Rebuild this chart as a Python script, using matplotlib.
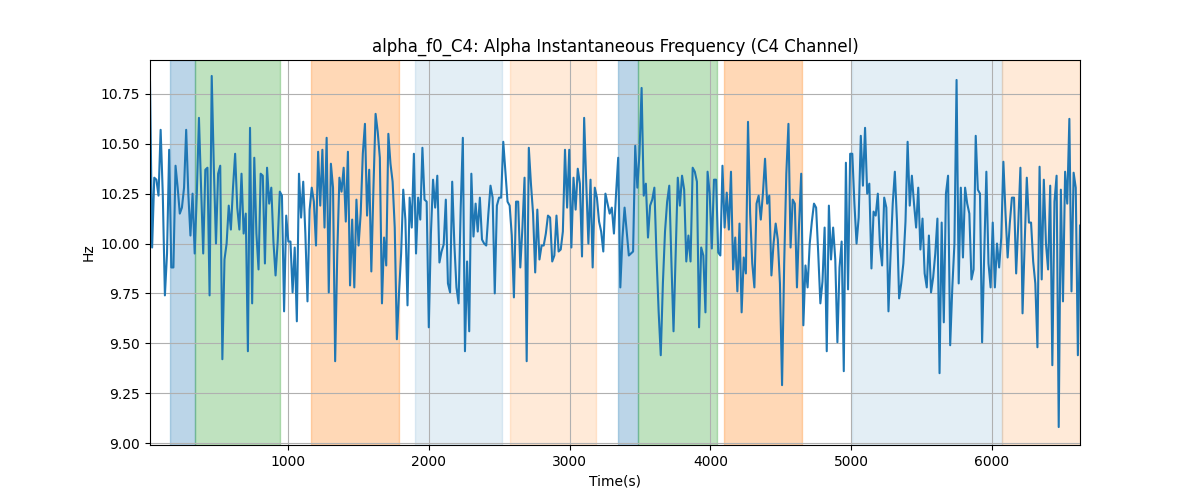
import numpy as np
import matplotlib
matplotlib.use("Agg")
import matplotlib.pyplot as plt

# ---- data ----
t_start, t_end = 20, 6625

seg_a = [10.81, 9.98, 10.33, 10.32, 10.24, 10.57, 10.25, 9.74, 9.95, 10.47, 9.88, 9.88, 10.39, 10.28,
         10.15, 10.18, 10.28, 10.57, 10.25, 10.04, 10.25, 9.95, 10.25, 10.63, 10.28, 9.95, 10.37, 10.38,
         9.74, 10.84, 10.38, 10.00, 10.35, 10.39, 9.42, 9.92, 10.00, 10.19, 10.07, 10.28, 10.45, 10.18,
         10.07, 10.35, 10.05, 10.15, 9.46, 10.58, 9.70, 10.43, 10.05, 9.87, 10.35, 10.34, 9.90]
seg_b = [10.38, 10.20, 10.28, 10.01, 9.84, 10.01, 10.26, 10.24, 9.66, 10.14, 10.01, 10.01, 9.755, 9.98,
         9.61, 10.35, 10.13, 10.31, 10.05, 9.71, 10.17, 10.28, 10.21, 9.99, 10.46, 10.19, 10.47, 10.08,
         10.53, 9.755, 10.40, 10.28, 9.41, 9.95, 10.33, 10.26, 10.38, 10.11, 10.46, 9.79, 10.12, 9.78,
         10.22, 9.99, 10.15, 10.45, 10.60, 10.14, 10.37, 9.86, 10.28, 10.65, 10.56]
seg_c = [10.43, 9.70, 10.03, 9.89, 10.55, 10.40, 10.31, 10.08, 9.52, 9.75, 9.95, 10.27, 10.12, 9.69,
         10.23, 10.08, 10.45, 9.95, 10.23, 10.12, 10.48, 10.22, 10.21, 9.58, 10.05, 10.32, 10.18, 10.34,
         9.905, 9.96, 9.995, 10.22, 9.80, 9.755, 10.31, 10.00, 9.78, 9.70, 10.18, 10.53, 9.46, 9.91,
         9.56, 10.35, 10.035, 10.20, 10.06, 10.23, 10.02, 10.00, 9.99, 10.15, 10.29]
seg_d = [10.23, 9.75, 10.19, 10.23, 10.23, 10.51, 10.36, 10.21, 10.19, 10.04, 9.73, 10.21, 10.21, 9.88,
         10.08, 10.33, 9.41, 10.48, 10.30, 10.15, 9.855, 10.17, 9.92, 9.99, 9.99, 10.05, 10.14, 10.13,
         9.91, 9.94, 10.14, 9.96, 9.97, 10.06, 10.47, 10.18, 10.47, 9.98, 10.33, 10.17, 10.375, 10.30,
         9.935, 10.63, 10.30, 10.00, 10.32, 9.88, 10.28, 10.23, 10.11, 10.06, 9.96, 10.25, 10.20]
seg_e = [10.15, 10.18, 10.05, 10.25, 10.43, 9.78, 10.03, 10.18, 10.06, 9.94, 9.95, 9.96, 10.49, 10.28,
         10.45, 10.78, 10.24, 10.30, 10.03, 10.19, 10.22, 10.28, 9.94, 9.66, 9.44, 9.80, 10.06, 10.21,
         10.29, 9.91, 9.56, 9.95, 10.33, 10.19, 10.34, 10.27, 9.91, 10.04, 9.91, 10.38, 10.36, 10.31,
         9.58, 9.98, 9.94, 9.655, 10.36, 10.25, 9.975, 10.32, 10.32, 9.955, 9.94, 10.39, 10.08]
seg_f = [10.255, 10.07, 10.36, 9.87, 10.03, 9.76, 10.10, 9.655, 9.93, 9.85, 10.61, 10.15, 9.90, 9.78,
         10.20, 10.24, 10.12, 10.25, 10.425, 10.20, 10.24, 9.84, 10.00, 10.10, 10.02, 9.80, 9.29, 9.90,
         10.35, 10.60, 9.98, 10.22, 10.20, 9.78, 10.10, 10.35, 9.59, 9.89, 9.78, 10.00, 10.11, 10.20,
         10.18, 9.95, 9.70, 9.81, 10.08, 9.46, 10.19, 9.92, 10.08, 9.92, 9.505, 9.88, 10.01]
seg_g = [9.36, 10.405, 9.77, 10.45, 10.45, 10.20, 10.00, 10.13, 10.54, 10.29, 10.58, 10.25, 10.30, 9.875,
         10.16, 10.14, 10.25, 9.99, 9.89, 10.23, 10.18, 9.66, 9.95, 10.20, 10.36, 10.11, 9.725, 9.80,
         9.90, 10.11, 10.51, 10.19, 10.34, 10.20, 10.08, 10.28, 9.97, 10.125, 9.85, 9.78, 10.04, 9.755,
         9.83, 9.95, 10.125, 9.35, 10.105, 9.605, 10.25, 10.34, 9.49, 9.78, 10.00, 10.82, 9.80]
seg_h = [10.28, 9.93, 10.28, 10.20, 10.15, 9.82, 9.87, 10.54, 10.27, 10.25, 9.505, 9.95, 10.36, 9.90,
         9.78, 10.105, 9.78, 10.00, 9.88, 10.03, 10.41, 10.15, 9.93, 10.10, 10.23, 10.23, 9.85, 10.10,
         10.38, 9.65, 10.00, 10.33, 10.105, 10.105, 9.91, 9.80, 9.48, 10.385, 9.82, 10.32, 10.00, 9.87,
         10.29, 9.39, 10.21, 10.34, 9.08, 10.27, 9.71, 10.36, 10.20, 10.625, 9.76, 10.355, 10.28, 9.44,
         10.09]

freq_hz = seg_a + seg_b + seg_c + seg_d + seg_e + seg_f + seg_g + seg_h
time_s = np.linspace(t_start, t_end, len(freq_hz))

# shaded intervals (start, end, colour, alpha)
span_starts = [159, 342, 1161, 1900, 2575, 3345, 3488, 4097, 5007, 6068]
span_ends = [342, 946, 1785, 2519, 3185, 3488, 4045, 4649, 6068, 6625]
span_colors = ["tab:blue", "tab:green", "tab:orange", "tab:blue", "tab:orange",
               "tab:blue", "tab:green", "tab:orange", "tab:blue", "tab:orange"]
span_alphas = [0.3, 0.3, 0.3, 0.12, 0.16, 0.3, 0.3, 0.3, 0.12, 0.16]

title = "alpha_f0_C4: Alpha Instantaneous Frequency (C4 Channel)"

# ---- plot ----
fig, ax = plt.subplots(figsize=(12, 5), dpi=100)
for s, e, c, a in zip(span_starts, span_ends, span_colors, span_alphas):
    ax.axvspan(s, e, color=c, alpha=a)
ax.plot(time_s, freq_hz, color="tab:blue", linewidth=1.5)
ax.set_xlim(time_s[0], time_s[-1])
ax.set_ylim(8.99, 10.92)
ax.set_yticks([9.00, 9.25, 9.50, 9.75, 10.00, 10.25, 10.50, 10.75])
ax.grid(True)
ax.set_title(title)
ax.set_xlabel("Time(s)")
ax.set_ylabel("Hz")
fig.savefig("out.png", dpi=100)
